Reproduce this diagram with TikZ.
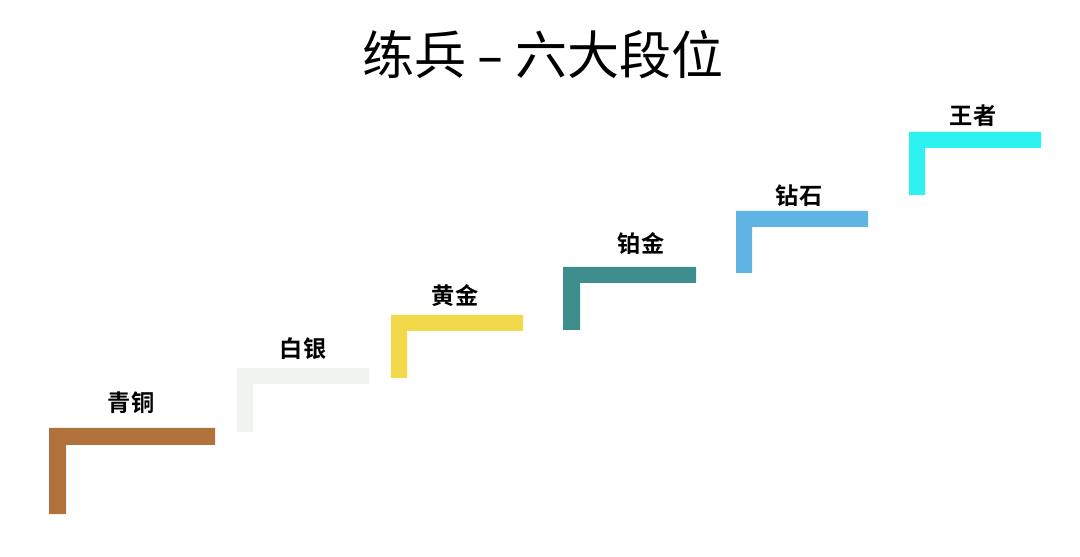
\documentclass[tikz,border=0pt]{standalone}
\usepackage{fontspec}
\usepackage{tikz}
\newfontfamily\cjk{Noto Sans CJK SC}
\newfontfamily\cjkbold{Noto Sans CJK SC Bold}
\newfontfamily\dashfont{DejaVu Sans}

\definecolor{bronze}{RGB}{176,114,58}
\definecolor{silver}{RGB}{239,244,239}
\definecolor{gold}{RGB}{242,217,74}
\definecolor{platinum}{RGB}{61,142,140}
\definecolor{diamond}{RGB}{96,180,228}
\definecolor{king}{RGB}{46,242,242}

\tikzset{
  rank/.style={draw=none,font=\cjkbold\fontsize{16.5}{18}\selectfont}
}

\begin{document}
\begin{tikzpicture}[x=0.025cm,y=-0.025cm]
  \useasboundingbox (0,0) rectangle (1080,557);
  \node (title) at (543,55) [draw=none,font=\cjk\fontsize{37}{40}\selectfont] {练兵\hspace{0.22em}{\dashfont –}\hspace{0.22em}六大段位};

  \fill[bronze] (49,428) -| (215,445) -| (66,514) -| (49,428) -- cycle;
  \node (qingtong) at (131,403) [rank] {青铜};

  \fill[silver] (237,368) -| (369,384) -| (253,432) -| (237,368) -- cycle;
  \node (baiyin) at (303,349) [rank] {白银};

  \fill[gold] (391,315) -| (523,331) -| (407,378) -| (391,315) -- cycle;
  \node (huangjin) at (455,296) [rank] {黄金};

  \fill[platinum] (563,267) -| (696,283) -| (580,330) -| (563,267) -- cycle;
  \node (bojin) at (641,244) [rank] {铂金};

  \fill[diamond] (736,211) -| (868,227) -| (752,273) -| (736,211) -- cycle;
  \node (zuanshi) at (799,196) [rank] {钻石};

  \fill[king] (909,132) -| (1041,148) -| (925,195) -| (909,132) -- cycle;
  \node (wangzhe) at (973,116) [rank] {王者};
\end{tikzpicture}
\end{document}
